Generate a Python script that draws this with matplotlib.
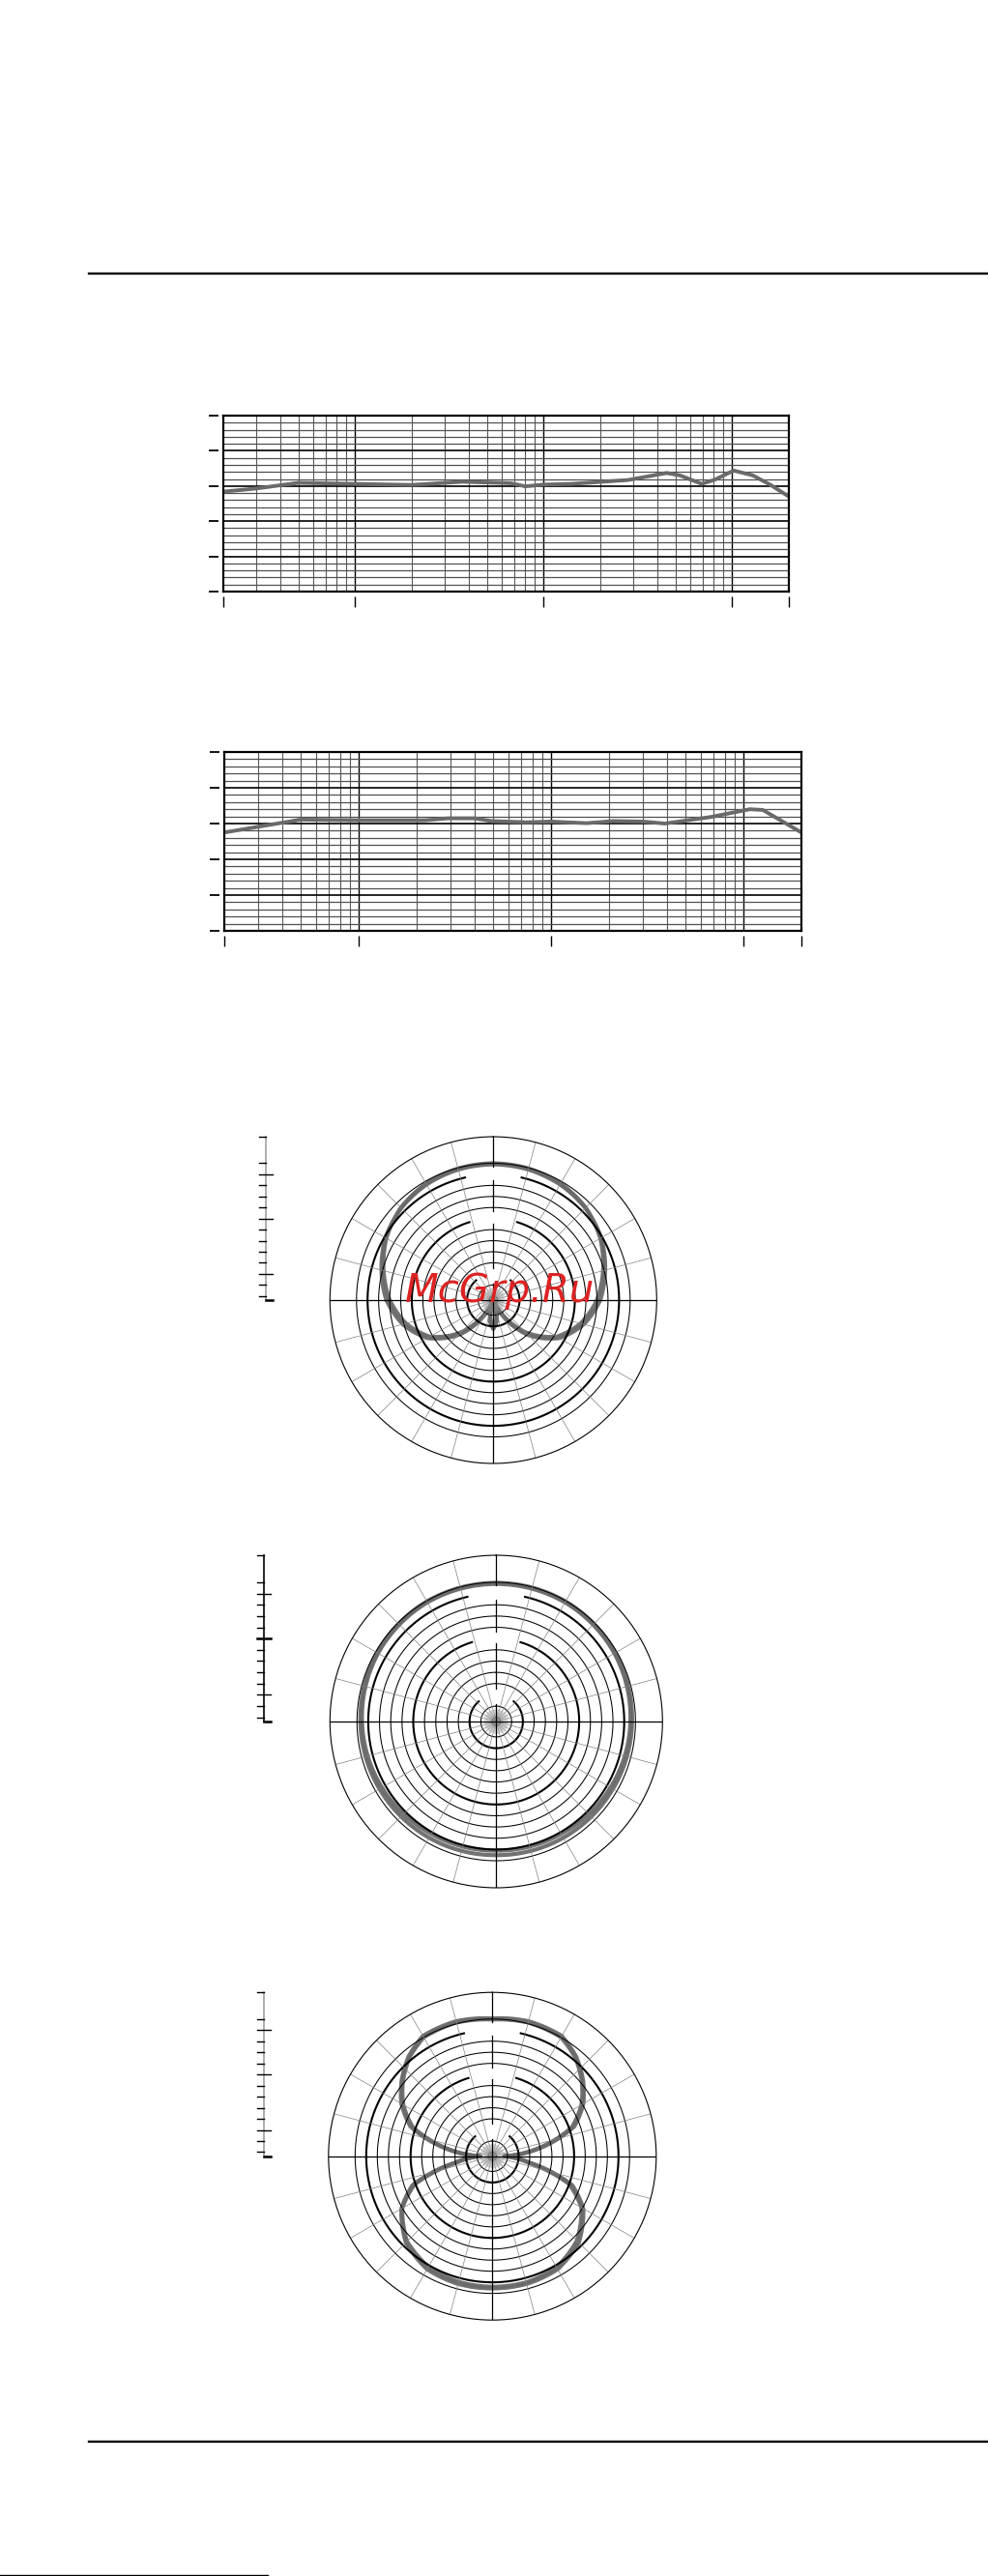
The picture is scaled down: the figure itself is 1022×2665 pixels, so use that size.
import numpy as np
import matplotlib
matplotlib.use('Agg')
import matplotlib.pyplot as plt
from matplotlib.lines import Line2D
from matplotlib.path import Path
from matplotlib.patches import PathPatch
from matplotlib.ticker import NullLocator

W, H = 1022, 2665

# frequency response curves (Hz, dB)
freq_top = [20, 30, 50, 100, 200, 370, 670, 800, 1000, 1400, 2800, 4500, 5300, 6900, 8100, 10200, 12900, 16000, 20000]
resp_top = [-1.6, -0.7, 0.9, 0.6, 0.3, 1.2, 0.8, -0.1, 0.4, 0.6, 1.7, 3.7, 3.0, 0.6, 1.8, 4.4, 3.0, 0.3, -3.0]

freq_bot = [20, 30, 50, 100, 220, 290, 400, 490, 740, 1000, 1530, 2100, 3000, 3900, 6700, 10800, 12600, 20000]
resp_bot = [-2.5, -0.9, 1.1, 0.9, 0.9, 1.45, 1.45, 0.7, 0.35, 0.55, 0.1, 0.7, 0.55, 0.0, 1.8, 4.0, 3.8, -2.5]

# polar patterns (degrees, dB)
card_deg = [0, 15, 30, 45, 60, 75, 90, 105, 120, 135, 150, 160, 170, 180,
            190, 200, 210, 225, 240, 255, 270, 285, 300, 315, 330, 345, 360]
card_a = [0, -0.1, -0.4, -1.1, -2.4, -4.2, -6.0, -8.4, -11.5, -16.5, -22.5, -24.7, -21.0, -19.5,
          -21.0, -24.7, -22.5, -16.5, -11.5, -8.4, -6.0, -4.2, -2.4, -1.1, -0.4, -0.1, 0]
card_b = [-0.2, -0.3, -0.6, -1.2, -2.2, -3.8, -5.4, -7.8, -11.0, -15.8, -21.8, -24.7, -21.5, -20.0,
          -21.5, -24.7, -21.8, -15.8, -11.0, -7.8, -5.4, -3.8, -2.2, -1.2, -0.6, -0.3, -0.2]

omni_deg = [0, 30, 60, 90, 120, 150, 180, 210, 240, 270, 300, 330, 360]
omni_a = [-0.1, -0.1, -0.3, -0.6, -0.8, -0.9, -1.0, -0.9, -0.8, -0.6, -0.3, -0.1, -0.1]
omni_b = [-0.3, -0.3, -0.5, -0.9, -1.3, -1.7, -1.8, -1.7, -1.3, -0.9, -0.5, -0.3, -0.3]

fig8_deg = [0, 15, 30, 40, 50, 60, 70, 80, 90, 100, 110, 120, 135, 150, 165, 180,
            195, 210, 225, 240, 250, 260, 270, 280, 290, 300, 310, 320, 330, 345, 360]
fig8_a = [0.1, 0.45, 0.3, -1.25, -3.4, -5.8, -9.0, -15.8, -22.6, -17.8, -9.4, -5.8, -2.7, -1.2, -0.9, -0.9,
          -0.9, -1.2, -2.7, -5.8, -9.4, -17.8, -22.6, -15.8, -9.0, -5.8, -3.4, -1.25, 0.3, 0.45, 0.1]
fig8_b = [-0.1, 0.2, 0.0, -1.5, -3.7, -6.2, -9.5, -16.2, -22.6, -18.3, -10.0, -6.2, -3.2, -1.6, -1.2, -1.2,
          -1.3, -1.7, -3.0, -6.0, -9.8, -18.3, -22.6, -16.2, -9.5, -6.2, -3.7, -1.5, 0.0, 0.2, -0.1]

# polar grid
R_MIN, R_MAX = -24.74, 4.8
rings = list(range(0, -25, -2))
bold_gap = {-2: 13, -10: 17, -20: 41}
top_segments = [(R_MIN, -21.7), (-18.9, -10.85), (-8.74, -3.03), (-0.57, R_MAX)]

GRAY = '#6a6a6a'

fig = plt.figure(figsize=(W / 100, H / 100), dpi=100)


def box(x0, y0, x1, y1, **kw):
    return fig.add_axes([x0 / W, 1 - y1 / H, (x1 - x0) / W, (y1 - y0) / H], **kw)


def hline(x0, x1, y, lw):
    fig.add_artist(Line2D([x0 / W, x1 / W], [1 - y / H] * 2, color='k', lw=lw))


def freq_chart(rect, freqs, resp):
    ax = box(*rect)
    ax.set_xscale('log')
    ax.set_xlim(20, 20000)
    ax.set_ylim(-30, 20)
    for d in (10, 100, 1000):
        for m in range(2, 10):
            if m * d > 20:
                ax.axvline(m * d, color='#5a5a5a', lw=0.8)
    for f in (100, 1000, 10000):
        ax.axvline(f, color='k', lw=1.0)
    for y in range(-28, 20, 2):
        if y % 10:
            ax.axhline(y, color='#505050', lw=0.9)
        else:
            ax.axhline(y, color='k', lw=1.2)
    ax.plot(freqs, resp, color=GRAY, lw=2.8, solid_joinstyle='round')
    ax.axvline(20, color='k', lw=1.6, clip_on=False)
    ax.axhline(-30, color='k', lw=1.6, clip_on=False)
    for s in ('top', 'right'):
        ax.spines[s].set_linewidth(1.6)
    for s in ('left', 'bottom'):
        ax.spines[s].set_position(('outward', 3.6))
        ax.spines[s].set_visible(False)
    ax.set_yticks(range(-30, 21, 10))
    ax.set_xticks([20, 100, 1000, 10000, 20000])
    ax.xaxis.set_minor_locator(NullLocator())
    ax.yaxis.set_minor_locator(NullLocator())
    ax.tick_params(axis='y', direction='out', length=7.2, width=1.3, labelleft=False)
    ax.tick_params(axis='x', direction='out', length=8, width=1.0, labelbottom=False)


def polar_chart(cx, cy, R, curves, bar_x, bar_color):
    ax = box(cx - R, cy - R, cx + R, cy + R, projection='polar')
    ax.set_theta_zero_location('N')
    ax.set_theta_direction(-1)
    ax.set_ylim(R_MIN, R_MAX)
    ax.grid(False)
    ax.set_xticks([])
    ax.set_yticks([])
    ax.spines['polar'].set_linewidth(0.8)
    full = np.linspace(0, 2 * np.pi, 721)
    for g in rings:
        if g in bold_gap:
            half = np.deg2rad(bold_gap[g])
            t = np.linspace(half, 2 * np.pi - half, 700)
            ax.plot(t, np.full_like(t, g), color='k', lw=1.5)
        else:
            ax.plot(full, np.full_like(full, g), color='k', lw=0.75)
    for a in range(0, 360, 5):
        t = np.deg2rad(a)
        if a % 90 == 0:
            continue
        if a % 15 == 0:
            ax.plot([t, t], [R_MIN, R_MAX], color='#808080', lw=0.5)
        else:
            ax.plot([t, t], [R_MIN, -22.6], color='#999999', lw=0.3)
    for a in (90, 180, 270):
        t = np.deg2rad(a)
        ax.plot([t, t], [R_MIN, R_MAX], color='k', lw=0.9)
    for r0, r1 in top_segments:
        ax.plot([0, 0], [r0, r1], color='k', lw=0.9)
    for deg, vals in curves:
        verts = np.column_stack([np.deg2rad(deg), vals])
        ax.add_patch(PathPatch(Path(verts, _interpolation_steps=40), fill=False,
                               edgecolor=GRAY, lw=3.0, joinstyle='round', alpha=0.95))

    # scale bar at the left
    bx = box(bar_x - 15, cy - R, bar_x + 15, cy)
    bx.set_xlim(-15, 15)
    bx.set_ylim(R_MIN, R_MAX)
    bx.axis('off')
    bx.plot([0, 0], [R_MIN, R_MAX], color=bar_color, lw=1.2, clip_on=False)
    for g in rings + [R_MAX]:
        if g in bold_gap:
            bx.plot([-7, 7], [g, g], color='k', lw=1.8 if g == -10 and bar_color == 'k' else 1.0, clip_on=False)
        else:
            bx.plot([-7, 0], [g, g], color='k', lw=1.0, clip_on=False)
    bx.plot([0, 7], [R_MIN, R_MIN], color='k', lw=1.8, clip_on=False)
    return ax


hline(92, 1022, 283, 1.7)
hline(92, 1022, 2526, 1.7)
hline(0, 277, 2663.5, 1.0)

freq_chart((231, 430, 816, 612), freq_top, resp_top)
freq_chart((232, 778, 829, 963), freq_bot, resp_bot)

polar_chart(510.3, 1345, 169, [(card_deg, card_a), (card_deg, card_b)], 275, '#a0a0a0')
polar_chart(513.3, 1781, 172, [(omni_deg, omni_a), (omni_deg, omni_b)], 273.3, 'k')
polar_chart(509.3, 2230.7, 169.5, [(fig8_deg, fig8_a), (fig8_deg, fig8_b)], 272.7, '#a0a0a0')

fig.text(517 / W, 1 - 1347 / H, 'McGrp.Ru', color='#dd2222', fontsize=29,
         style='italic', ha='center', va='baseline', family='DejaVu Sans', zorder=10)

fig.savefig('out.png', dpi=100)
